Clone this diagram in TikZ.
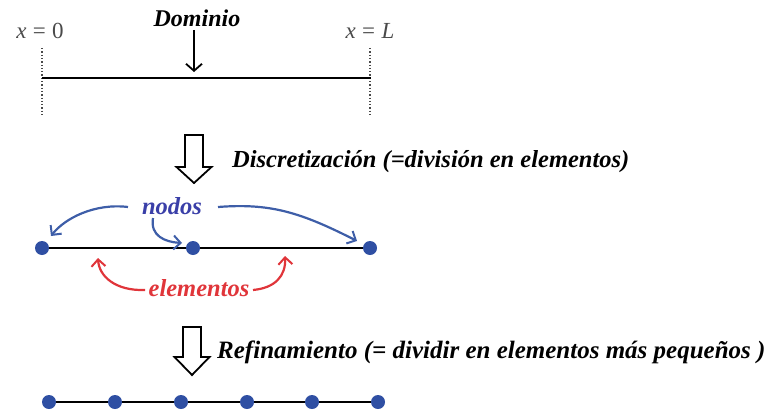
\documentclass[tikz,border=0pt]{standalone}
\usepackage{fontspec}
\setmainfont{Liberation Serif}
\usetikzlibrary{arrows.meta}
\definecolor{nblue}{HTML}{2F4FA3}
\definecolor{ablue}{HTML}{3E5EA8}
\definecolor{tblue}{HTML}{3A3FA8}
\definecolor{ared}{HTML}{E0353A}
\definecolor{xgray}{HTML}{4A4A4A}
\tikzset{
  dot/.style={circle,fill=nblue,inner sep=0pt,minimum size=14pt},
  lbl/.style={font=\fontsize{24.5}{26}\selectfont\bfseries\itshape,inner sep=0pt},
  coordlbl/.style={font=\fontsize{23}{25}\selectfont,text=xgray,inner sep=0pt},
  barline/.style={line width=2.2pt,black},
  hollow/.style={line width=1.8pt,black,line join=miter},
  bluearr/.style={ablue,line width=2.2pt,-{Straight Barb[length=7pt,width=14pt,line width=2pt]}},
  redarr/.style={ared,line width=2.2pt,-{Straight Barb[length=7pt,width=14pt,line width=2pt]}},
}
\begin{document}
\begin{tikzpicture}[x=1pt,y=-1pt]
\useasboundingbox (0,0) rectangle (767,412);
% --- Domain
\node[coordlbl] (x0) at (40,31) {\textit{x}\;=\;0};
\node[coordlbl] (xL) at (370,31) {\textit{x}\;=\;\textit{L}};
\coordinate (a0) at (42,78);
\coordinate (aL) at (371,78);
\coordinate (d0t) at (42,48);
\coordinate (d0b) at (42,115);
\coordinate (dLt) at (370,48);
\coordinate (dLb) at (370,115);
\draw[line width=1.3pt,dotted,xgray] (d0t) -- (d0b);
\draw[line width=1.3pt,dotted,xgray] (dLt) -- (dLb);
\draw[barline] (a0) -- (aL);
\node[font=\fontsize{24}{26}\selectfont\bfseries\itshape,inner sep=0pt] (dom) at (197,18) {Dominio};
\coordinate (domtip) at (194,72);
\draw[line width=1.8pt,-{Straight Barb[length=7pt,width=16pt,line width=1.8pt]}] (194,30) -- (domtip);
% --- hollow arrow 1
\draw[hollow] (185,135) -- (203,135) -- (203,167) -- (211.5,167) -- (194,183) -- (176.5,167) -- (185,167) -- cycle;
\node[lbl,anchor=west] (disc) at (232,162) {Discretización (=división en elementos)};
% --- second line
\node[dot] (n1) at (42,248) {};
\node[dot] (n2) at (193,248) {};
\node[dot] (n3) at (370,248) {};
\draw[barline] (n1) -- (n2) -- (n3);
\node[lbl,text=tblue] (nodos) at (172,206) {nodos};
\coordinate (b1s) at (128,207);
\coordinate (b2s) at (153,218);
\coordinate (b3s) at (218,207);
\coordinate (b1e) at (51,236);
\coordinate (b2e) at (182,243);
\coordinate (b3e) at (357,241);
\draw[bluearr] (b1s) .. controls (95,203) and (65,218) .. (b1e);
\draw[bluearr] (b2s) .. controls (150,236) and (165,242) .. (b2e);
\draw[bluearr] (b3s) .. controls (270,203) and (300,212) .. (b3e);
\node[lbl,text=ared] (elem) at (199,288) {elementos};
\coordinate (r1s) at (145,290);
\coordinate (r2s) at (253,290);
\coordinate (r1e) at (98,258);
\coordinate (r2e) at (285,256);
\draw[redarr] (r1s) .. controls (115,291) and (99,276) .. (r1e);
\draw[redarr] (r2s) .. controls (275,288) and (286,276) .. (r2e);
% --- hollow arrow 2
\draw[hollow] (183,327) -- (201,327) -- (201,357) -- (209.5,357) -- (192,375) -- (174.5,357) -- (183,357) -- cycle;
\node[lbl,anchor=west,font=\fontsize{25}{27}\selectfont\bfseries\itshape] (refi) at (217,352) {Refinamiento (= dividir en elementos más pequeños )};
% --- third line
\node[dot] (m1) at (49,402) {};
\node[dot] (m2) at (115,402) {};
\node[dot] (m3) at (181,402) {};
\node[dot] (m4) at (247,402) {};
\node[dot] (m5) at (312,402) {};
\node[dot] (m6) at (378,402) {};
\draw[barline] (m1) -- (m2) -- (m3) -- (m4) -- (m5) -- (m6);
\end{tikzpicture}
\end{document}
